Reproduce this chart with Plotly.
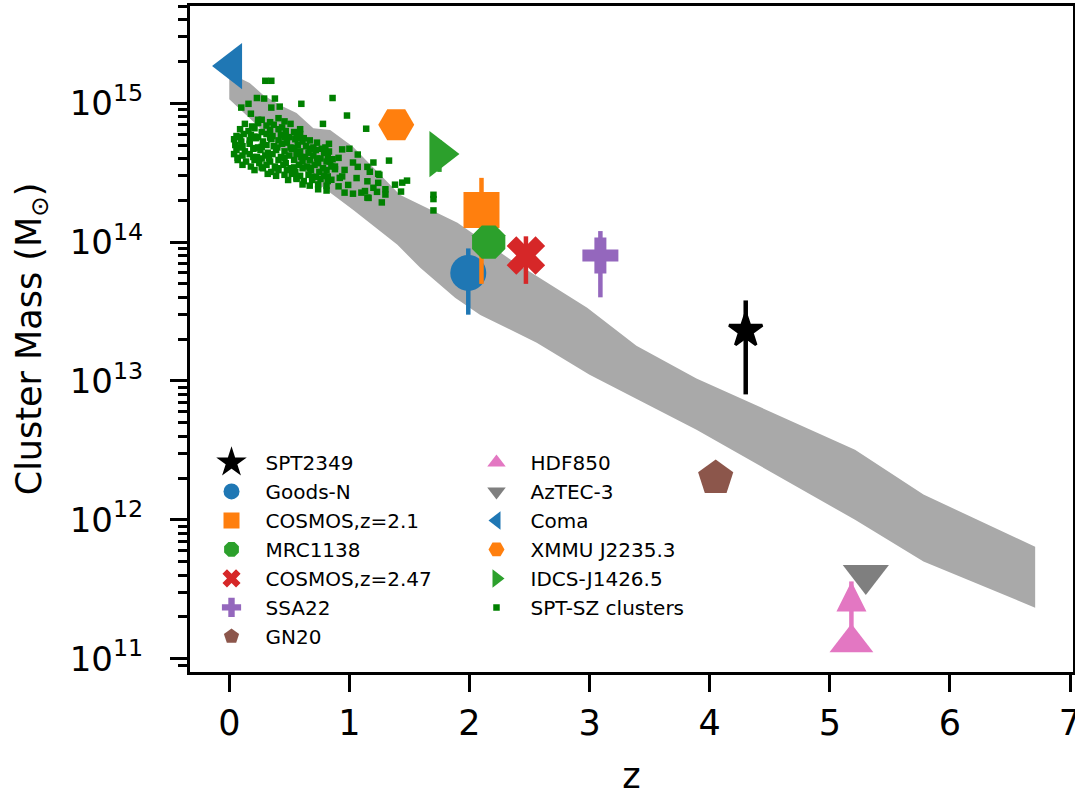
import plotly.graph_objects as go

# ---------------- data ----------------
# grey model band (upper and lower envelopes)
band_upper_z = [0.0, 0.17, 0.28, 0.42, 0.56, 0.70, 0.84, 1.03, 1.42, 1.90, 2.34, 2.98, 3.39, 3.89, 5.21, 5.78, 6.71]
band_upper_m = [1.65e15, 1.40e15, 1.15e15, 9.7e14, 8.5e14, 6.6e14, 6.4e14, 4.85e14, 2.19e14, 1.38e14,
                7.5e13, 3.37e13, 1.79e13, 1.04e13, 3.2e12, 1.52e12, 6.4e11]
band_lower_z = [0.0, 0.17, 0.51, 0.73, 1.03, 1.40, 1.59, 1.88, 2.09, 2.56, 3.00, 3.89, 5.21, 5.78, 6.71]
band_lower_m = [1.07e15, 7.8e14, 4.04e14, 2.67e14, 1.71e14, 9.55e13, 6.53e13, 3.97e13, 2.99e13, 1.88e13,
                1.11e13, 4.46e12, 1.0e12, 5.0e11, 2.33e11]

# individual (proto)clusters
names = ["SPT2349", "Goods-N", "COSMOS,z=2.1", "MRC1138", "COSMOS,z=2.47", "SSA22", "GN20",
         "HDF850", "AzTEC-3", "Coma", "XMMU J2235.3", "IDCS-J1426.5"]
cl_z = [4.30, 1.99, 2.10, 2.16, 2.47, 3.09, 4.05, 5.18, 5.30, 0.023, 1.39, 1.75]
cl_m = [2.3e13, 6.0e13, 1.7e14, 1.0e14, 8.0e13, 8.0e13, 2.0e12, 1.3e11, 4.0e11, 1.85e15, 7.0e14, 4.3e14]
cl_err_plus = [1.5e13, 3.0e13, 1.2e14, 0, 3.0e13, 4.0e13, 0, 2.3e11, 0, 0, 0, 1.1e14]
cl_err_minus = [1.5e13, 3.0e13, 1.2e14, 0, 3.0e13, 4.0e13, 0, 0, 0, 0, 0, 1.1e14]
cl_lower_limit = [False, False, False, False, False, False, False, True, False, False, False, False]
cl_legend = ["legend", "legend", "legend", "legend", "legend", "legend", "legend",
             "legend2", "legend2", "legend2", "legend2", "legend2"]

# SPT-SZ clusters (z, mass in 1e14 Msun)
spt_z = [
    0.30, 0.35, 0.23, 0.29, 0.38, 0.16, 0.10, 0.35, 0.42, 0.60, 0.86, 0.18, 0.24, 0.78, 0.59, 0.83,
    0.98, 1.14, 1.33, 1.20, 1.38, 1.44, 1.48, 1.43, 1.27, 1.70, 1.70, 1.70, 1.30, 1.30, 1.23, 1.16,
    0.94, 1.00, 0.91, 1.07, 1.03, 1.07, 1.15, 1.24, 1.15, 1.20, 1.10, 1.03, 0.96, 0.91, 0.85, 0.99,
    1.15, 1.13, 1.24, 1.17, 1.25, 0.96, 0.88, 0.82, 0.94, 1.06, 0.84, 0.83,
    0.27, 0.34, 0.41, 0.46,
    0.13, 0.19, 0.24, 0.31, 0.37, 0.44, 0.51,
    0.09, 0.16, 0.21, 0.27, 0.34, 0.41, 0.47, 0.54, 0.59,
    0.06, 0.12, 0.18, 0.24, 0.31, 0.36, 0.43, 0.50, 0.56, 0.62,
    0.04, 0.10, 0.17, 0.22, 0.28, 0.35, 0.41, 0.48, 0.55, 0.61, 0.67, 0.73,
    0.05, 0.11, 0.17, 0.24, 0.31, 0.37, 0.44, 0.51, 0.57, 0.64, 0.70, 0.77,
    0.06, 0.13, 0.20, 0.26, 0.32, 0.39, 0.46, 0.52, 0.59, 0.66, 0.72, 0.79,
    0.04, 0.11, 0.17, 0.23, 0.30, 0.36, 0.43, 0.50, 0.56, 0.63, 0.70, 0.76, 0.82,
    0.07, 0.14, 0.21, 0.27, 0.34, 0.41, 0.47, 0.54, 0.61, 0.67, 0.74, 0.81,
    0.11, 0.18, 0.25, 0.31, 0.38, 0.45, 0.51, 0.58, 0.65, 0.71, 0.78, 0.85,
    0.21, 0.28, 0.35, 0.41, 0.48, 0.55, 0.61, 0.68, 0.75, 0.81,
    0.32, 0.39, 0.46, 0.52, 0.59, 0.66, 0.72, 0.79,
    0.49, 0.56, 0.62, 0.69, 0.76, 0.82,
    0.61, 0.67, 0.74, 0.81,
    0.74, 0.81,
    0.09, 0.21, 0.34, 0.46, 0.59,
    0.08, 0.21, 0.27, 0.40, 0.54, 0.67, 0.80,
    0.07, 0.20, 0.33, 0.46, 0.60, 0.73, 0.86,
    0.27, 0.40, 0.54, 0.67, 0.88,
    0.56, 0.69, 0.92,
]
spt_m14 = [
    14.5, 14.5, 10.9, 10.8, 10.8, 9.9, 9.3, 9.3, 9.45, 9.9, 10.9, 8.4, 7.6, 7.1, 6.5, 5.1,
    8.15, 6.55, 3.86, 3.74, 2.59, 2.68, 2.77, 2.31, 1.93, 2.19, 2.04, 1.69, 2.40, 2.20, 2.30, 2.08,
    4.65, 4.70, 4.04, 4.27, 3.74, 3.48, 3.48, 3.10, 2.74, 2.46, 2.27, 2.23, 2.27, 2.52, 2.81, 2.58,
    2.09, 2.33, 2.67, 3.21, 3.05, 3.31, 3.50, 2.97, 2.97, 2.89, 3.81, 4.49,
    7.6, 7.3, 7.8, 7.4,
    7.1, 6.8, 7.2, 6.9, 7.0, 6.7, 7.1,
    6.5, 6.3, 6.6, 6.2, 6.4, 6.5, 6.3, 6.2, 6.0,
    5.8, 6.0, 5.9, 5.7, 6.0, 5.8, 5.9, 5.7, 5.9, 5.6,
    5.5, 5.3, 5.4, 5.6, 5.3, 5.5, 5.4, 5.2, 5.5, 5.3, 5.4, 5.2,
    5.0, 4.9, 5.1, 4.8, 5.0, 4.9, 5.1, 4.8, 5.0, 4.9, 4.8, 4.7,
    4.6, 4.5, 4.7, 4.6, 4.4, 4.6, 4.5, 4.7, 4.5, 4.4, 4.6, 4.4,
    4.3, 4.2, 4.3, 4.1, 4.2, 4.3, 4.1, 4.2, 4.3, 4.1, 4.2, 4.0, 4.1,
    3.9, 3.8, 3.9, 4.0, 3.8, 3.9, 3.7, 3.9, 3.8, 3.9, 3.7, 3.8,
    3.6, 3.5, 3.7, 3.6, 3.5, 3.6, 3.4, 3.6, 3.5, 3.6, 3.4, 3.5,
    3.3, 3.4, 3.2, 3.3, 3.3, 3.2, 3.4, 3.3, 3.2, 3.3,
    3.1, 3.0, 3.05, 3.1, 3.0, 3.05, 2.95, 3.0,
    2.8, 2.85, 2.75, 2.8, 2.85, 2.75,
    2.6, 2.55, 2.6, 2.55,
    2.4, 2.35,
    5.7, 5.75, 5.65, 5.7, 5.6,
    4.8, 4.75, 4.85, 4.8, 4.75, 4.7, 4.8,
    4.05, 4.1, 4.0, 4.05, 4.1, 4.0, 3.95,
    3.45, 3.4, 3.45, 3.4, 3.35,
    2.9, 2.95, 2.9,
]

x_tick_vals = [0, 1, 2, 3, 4, 5, 6, 7]
y_tick_exps = [11, 12, 13, 14, 15]

# ---------------- styles ----------------
symbols = ["star", "circle", "square", "octagon", "x", "cross", "pentagon",
           "triangle-up", "triangle-down", "triangle-left", "hexagon2", "triangle-right"]
colors = ["black", "#1f77b4", "#ff7f0e", "#2ca02c", "#d62728", "#9467bd", "#8c564b",
          "#e377c2", "#7f7f7f", "#1f77b4", "#ff7f0e", "#2ca02c"]
sizes = [25, 36, 36, 36, 34, 30, 37, 38, 40, 40, 36, 40]
edge_w = [3, 0, 0, 0, 0, 0, 0, 0, 0, 0, 0, 0]
ranks = [1, 2, 3, 4, 5, 6, 7, 11, 12, 13, 14, 15]

FONT = "DejaVu Sans"
fig = go.Figure()

# band
fig.add_trace(go.Scatter(
    x=band_upper_z + band_lower_z[::-1],
    y=band_upper_m + band_lower_m[::-1],
    mode="lines", fill="toself", fillcolor="#a9a9a9",
    line=dict(width=0, color="#a9a9a9"), showlegend=False, hoverinfo="skip"))

# SPT-SZ clusters
fig.add_trace(go.Scatter(
    x=spt_z, y=[m * 1e14 for m in spt_m14], mode="markers",
    marker=dict(symbol="square", size=6.5, color="#008000", line=dict(width=0)),
    name="SPT-SZ clusters", legend="legend2", legendrank=16))

for i, nm in enumerate(names):
    err = None
    if cl_err_plus[i] > 0 or cl_err_minus[i] > 0:
        err = dict(type="data", symmetric=False, array=[cl_err_plus[i]],
                   arrayminus=[cl_err_minus[i]], thickness=4.5, width=0, color=colors[i])
    fig.add_trace(go.Scatter(
        x=[cl_z[i]], y=[cl_m[i]], mode="markers", name=nm,
        marker=dict(symbol=symbols[i], size=sizes[i], color=colors[i],
                    line=dict(width=edge_w[i], color=colors[i])),
        error_y=err, legend=cl_legend[i], legendrank=ranks[i]))
    if cl_lower_limit[i]:
        fig.add_trace(go.Scatter(
            x=[cl_z[i]], y=[cl_m[i] + cl_err_plus[i]], mode="markers", showlegend=False,
            marker=dict(symbol="arrow-up", size=30, color=colors[i], line=dict(width=0)),
            hoverinfo="skip"))

minor_vals = [k * 10.0 ** e for e in range(10, 16) for k in range(2, 10)]

axis_common = dict(showline=True, linecolor="black", linewidth=3, mirror=True,
                   ticks="outside", ticklen=17, tickwidth=3, tickcolor="black",
                   showgrid=False, zeroline=False, automargin=False,
                   ticklabeloverflow="allow")

fig.update_xaxes(range=[-0.327, 7.025], tickmode="array", tickvals=x_tick_vals,
                 ticktext=[str(v) for v in x_tick_vals], ticklabelstandoff=1,
                 tickfont=dict(family=FONT, size=35, color="black"),
                 title=dict(text="z", font=dict(family=FONT, size=35, color="black"), standoff=28),
                 **axis_common)
fig.update_yaxes(type="log", range=[10.904, 15.70], tickmode="array",
                 tickvals=[10.0 ** e for e in y_tick_exps],
                 ticktext=["10<sup>%d</sup>" % e for e in y_tick_exps], ticklabelstandoff=20,
                 tickfont=dict(family=FONT, size=34, color="black"),
                 minor=dict(tickvals=minor_vals, ticks="outside", ticklen=9, tickwidth=2.5,
                            tickcolor="black", showgrid=False),
                 title=dict(text="Cluster Mass (M<sub>⊙</sub>)",
                            font=dict(family=FONT, size=35, color="black"), standoff=18),
                 **axis_common)

leg_common = dict(xanchor="left", yanchor="top", bgcolor="rgba(0,0,0,0)", borderwidth=0,
                  font=dict(family=FONT, size=20, color="black"), itemsizing="trace",
                  itemwidth=58, tracegroupgap=0)
fig.update_layout(
    width=1075, height=796,
    margin=dict(l=190, r=2, t=6, b=124),
    paper_bgcolor="white", plot_bgcolor="white",
    font=dict(family=FONT, color="black"),
    legend=dict(x=0.0085, y=0.344, **leg_common),
    legend2=dict(x=0.3086, y=0.344, **leg_common),
)

fig.write_html("out.html", config={"displayModeBar": False},
               post_script="document.body.style.margin='0px';document.body.style.overflow='hidden';")
